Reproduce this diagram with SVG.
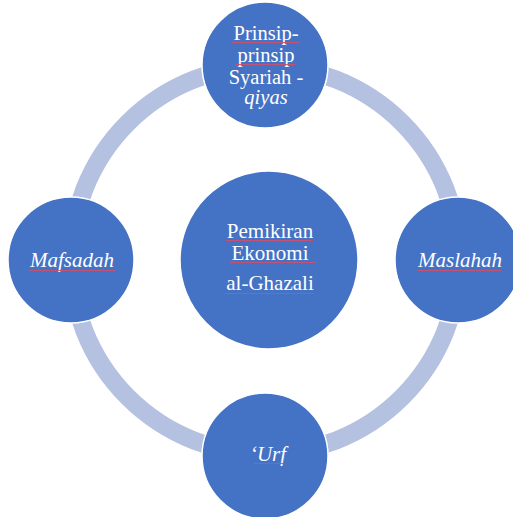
<svg xmlns="http://www.w3.org/2000/svg" width="513" height="517" viewBox="0 0 513 517">
<style>
.node{fill:#4472C4;stroke:#FFFFFF;stroke-width:1.5}
.t{font-size:21px;fill:#FFFFFF;text-anchor:middle}
.s{font-size:20.5px}
.i{font-style:italic}
.u{stroke:#D0506A;stroke-width:1;opacity:0.9}
</style>
<rect width="513" height="517" fill="#FFFFFF"/>
<g id="connectors">
<circle cx="265" cy="260" r="194" fill="none" stroke="#B4C1E1" stroke-width="18"/>
</g>
<g id="node-top">
<circle class="node" cx="265" cy="65" r="63"/>
<text class="t s" font-family="'Liberation Serif', Tinos, 'Times New Roman', serif" x="266" y="39.5">Prinsip-</text>
<text class="t s" font-family="'Liberation Serif', Tinos, 'Times New Roman', serif" x="266" y="61.5">prinsip</text>
<text class="t s" font-family="'Liberation Serif', Tinos, 'Times New Roman', serif" x="266" y="83.5">Syariah -</text>
<text class="t s i" font-family="'Liberation Serif', Tinos, 'Times New Roman', serif" x="266" y="104">qiyas</text>
<line class="u" x1="232" y1="42.5" x2="300" y2="42.5"/>
<line class="u" x1="235" y1="64.5" x2="295" y2="64.5"/>
</g>
<g id="node-left">
<circle class="node" cx="71" cy="260" r="63"/>
<text class="t i" font-family="'Liberation Serif', Tinos, 'Times New Roman', serif" x="72" y="267">Mafsadah</text>
<line class="u" x1="29" y1="270.5" x2="115" y2="270.5"/>
</g>
<g id="node-right">
<circle class="node" cx="458" cy="260" r="63"/>
<text class="t i" font-family="'Liberation Serif', Tinos, 'Times New Roman', serif" x="460" y="267">Maslahah</text>
<line class="u" x1="418" y1="270.5" x2="501" y2="270.5"/>
</g>
<g id="node-bottom">
<circle class="node" cx="265" cy="456" r="63"/>
<text class="t i" font-family="'Liberation Serif', Tinos, 'Times New Roman', serif" x="268" y="461">‘Urf</text>
<line class="u" x1="254" y1="463.5" x2="283" y2="463.5"/>
</g>
<g id="node-center">
<circle class="node" cx="269" cy="260" r="89"/>
<text class="t" font-family="'Liberation Serif', Tinos, 'Times New Roman', serif" x="270" y="238">Pemikiran</text>
<text class="t" font-family="'Liberation Serif', Tinos, 'Times New Roman', serif" x="270" y="260">Ekonomi</text>
<text class="t" font-family="'Liberation Serif', Tinos, 'Times New Roman', serif" x="270" y="290">al-Ghazali</text>
<line class="u" x1="226" y1="240.5" x2="313" y2="240.5"/>
<line class="u" x1="230" y1="262.5" x2="315" y2="262.5"/>
<line class="u" x1="225" y1="293.5" x2="314" y2="293.5"/>
</g>
</svg>
